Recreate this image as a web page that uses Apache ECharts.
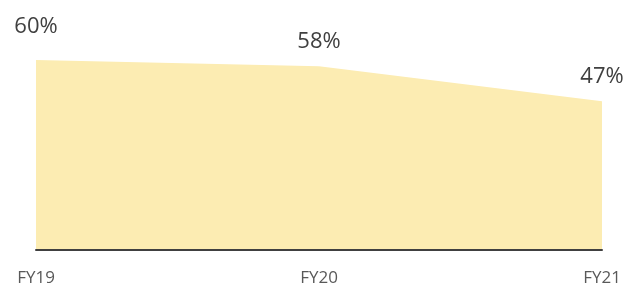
<!DOCTYPE html>
<html>
<head>
<meta charset="utf-8">
<script src="https://cdn.jsdelivr.net/npm/echarts@6/dist/echarts.min.js"></script>
<style>
  html, body { margin: 0; padding: 0; background: #fff; }
  #chart { width: 627px; height: 287px; }
</style>
</head>
<body>
<div id="chart"></div>
<script>
// 数据
const years = ['FY19', 'FY20', 'FY21']
const shares = [60, 58, 47]

const myChart = echarts.init(document.querySelector('#chart'))
const option = {
  animation: false,
  grid: {
    left: 36,
    right: 25,
    top: 60,
    bottom: 37
  },
  xAxis: {
    type: 'category',
    boundaryGap: false,
    data: years,
    z: 5,
    axisLine: {
      lineStyle: { color: '#404040', width: 2 }
    },
    axisTick: { show: false },
    axisLabel: {
      color: '#595959',
      fontFamily: 'Open Sans',
      fontSize: 17,
      margin: 20
    }
  },
  yAxis: {
    type: 'value',
    min: 0,
    max: 60,
    show: false,
    splitLine: { show: false }
  },
  series: [
    {
      type: 'line',
      data: shares.map((v, i) => ({
        value: v,
        label: { distance: i === 0 ? 22 : 13 }
      })),
      symbol: 'circle',
      symbolSize: 1,
      showSymbol: true,
      itemStyle: { color: 'rgba(0,0,0,0)' },
      lineStyle: { width: 0 },
      areaStyle: { color: '#FCECB2', opacity: 1 },
      label: {
        show: true,
        position: 'top',
        formatter: '{c}%',
        color: '#404040',
        fontFamily: 'Open Sans',
        fontSize: 22
      }
    }
  ]
}
myChart.setOption(option)
</script>
</body>
</html>
